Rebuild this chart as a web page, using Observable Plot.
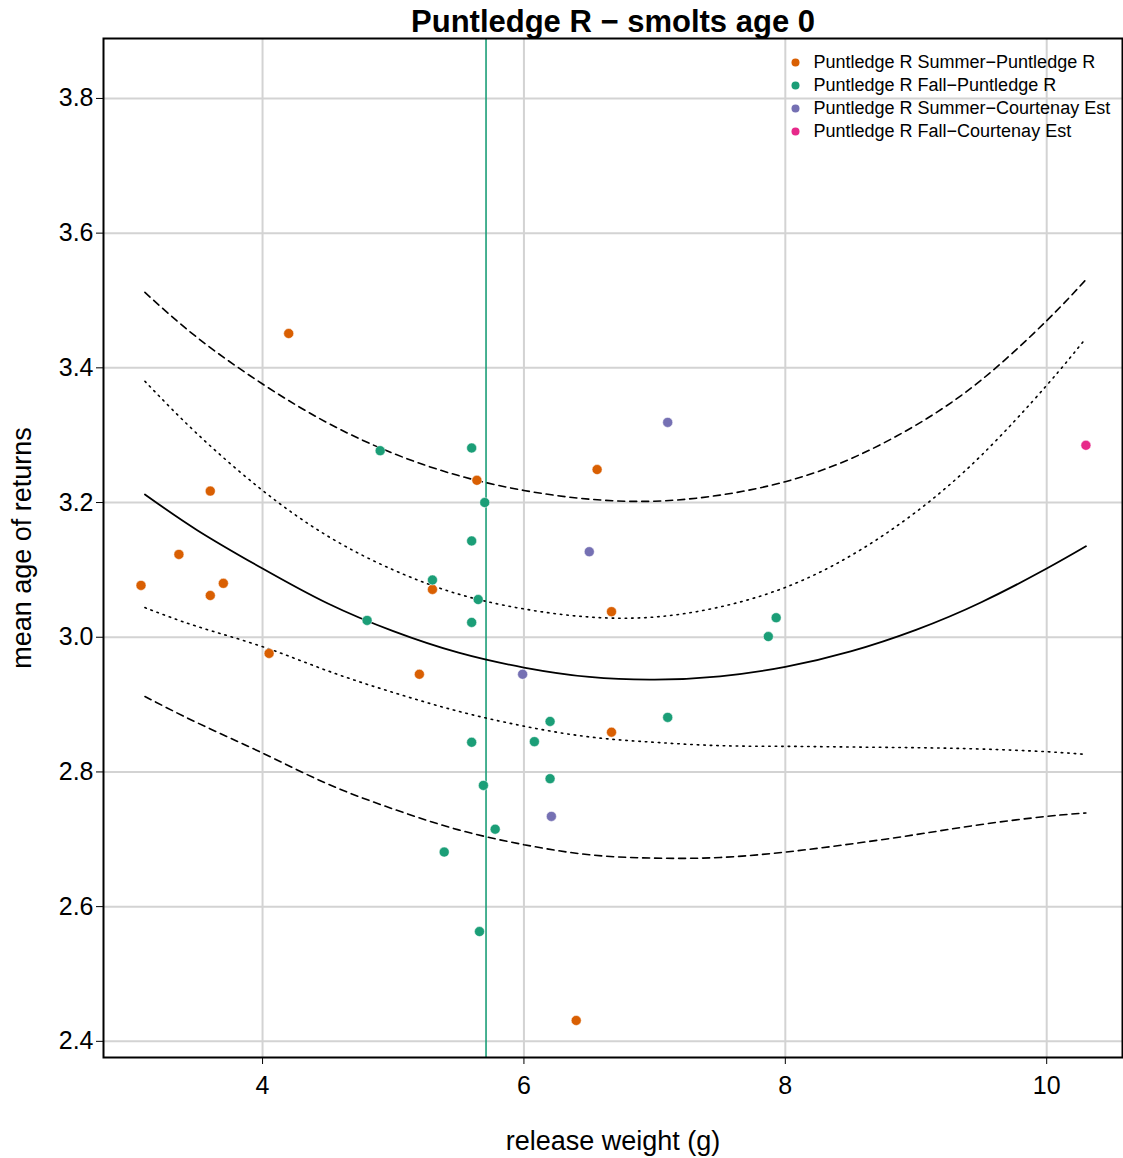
<!DOCTYPE html>
<html>
<head>
<meta charset="utf-8">
<script src="https://cdn.jsdelivr.net/npm/d3@7"></script>
<script src="https://cdn.jsdelivr.net/npm/@observablehq/plot@0.6"></script>
<style>
  html, body { margin: 0; padding: 0; background: #fff; }
  svg { font-family: "Liberation Sans", Arial, Helvetica, sans-serif; }
</style>
</head>
<body>
<div id="chart"></div>
<script>
// ---- labels ----
const titleText = "Puntledge R \u2212 smolts age 0";
const xLabel = "release weight (g)";
const yLabel = "mean age of returns";
const seriesNames = [
  "Puntledge R Summer\u2212Puntledge R",
  "Puntledge R Fall\u2212Puntledge R",
  "Puntledge R Summer\u2212Courtenay Est",
  "Puntledge R Fall\u2212Courtenay Est"
];
const seriesColors = ["#D95F02", "#1B9E77", "#7570B3", "#E7298A"];
const xTicks = [4, 6, 8, 10];
const yTicks = [2.4, 2.6, 2.8, 3.0, 3.2, 3.4, 3.6, 3.8];

// ---- points ----
const summerPuntX = [3.07, 3.36, 3.60, 3.60, 3.70, 4.20, 4.05, 5.20, 5.30, 5.64, 6.56, 6.67, 6.67, 6.40];
const summerPuntY = [3.077, 3.123, 3.217, 3.062, 3.080, 3.451, 2.976, 2.945, 3.071, 3.233, 3.249, 3.038, 2.859, 2.431];
const fallPuntX = [4.90, 5.60, 5.70, 5.60, 5.30, 5.65, 5.60, 4.80, 6.20, 5.60, 6.08, 6.20, 5.69, 5.78, 5.39, 5.66, 7.10, 7.93, 7.87];
const fallPuntY = [3.277, 3.281, 3.200, 3.143, 3.085, 3.056, 3.022, 3.025, 2.875, 2.844, 2.845, 2.790, 2.780, 2.715, 2.681, 2.563, 2.881, 3.029, 3.001];
const summerCourtX = [7.10, 6.50, 5.99, 6.21];
const summerCourtY = [3.319, 3.127, 2.945, 2.734];
const fallCourtX = [10.30];
const fallCourtY = [3.285];

// vertical reference line
const refLineX = [5.71];

// ---- fitted curve, confidence band (dotted), prediction band (dashed) ----
const curveX  = [3.1,   3.5,   4.0,   4.5,   5.0,   5.5,   6.0,   6.5,   7.0,   7.5,   8.0,   8.5,   9.0,   9.5,   10.0,  10.3];
const fitY    = [3.212, 3.159, 3.102, 3.050, 3.009, 2.977, 2.955, 2.941, 2.937, 2.942, 2.956, 2.979, 3.011, 3.052, 3.102, 3.135];
const ciUpY   = [3.380, 3.302, 3.218, 3.150, 3.100, 3.064, 3.042, 3.030, 3.030, 3.045, 3.074, 3.121, 3.186, 3.270, 3.374, 3.444];
const ciLoY   = [3.044, 3.016, 2.986, 2.950, 2.918, 2.890, 2.868, 2.852, 2.844, 2.839, 2.838, 2.837, 2.836, 2.834, 2.830, 2.826];
const piUpY   = [3.512, 3.445, 3.376, 3.318, 3.273, 3.240, 3.218, 3.205, 3.202, 3.211, 3.231, 3.265, 3.315, 3.382, 3.470, 3.531];
const piLoY   = [2.912, 2.873, 2.828, 2.782, 2.745, 2.714, 2.692, 2.677, 2.672, 2.673, 2.681, 2.693, 2.707, 2.722, 2.734, 2.739];

// ---- build tables ----
const seriesX = [summerPuntX, fallPuntX, summerCourtX, fallCourtX];
const seriesY = [summerPuntY, fallPuntY, summerCourtY, fallCourtY];
const points = seriesX.flatMap((xs, s) => xs.map((x, i) => ({x, y: seriesY[s][i], series: seriesNames[s]})));
const toPts = (xs, ys) => xs.map((x, i) => ({x, y: ys[i]}));

const font = '"Liberation Sans", Arial, Helvetica, sans-serif';

const legendMarks = seriesNames.flatMap((name, i) => [
  Plot.dot([name], {frameAnchor: "top-left", dx: 692, dy: 24 + 23 * i, r: 4, fill: d => d}),
  Plot.text([name], {frameAnchor: "top-left", dx: 710, dy: 24 + 23 * i, text: d => d, textAnchor: "start", lineAnchor: "middle", fontSize: 18, fill: "#000"})
]);

const lineOpts = {x: "x", y: "y", curve: "natural", stroke: "#000", strokeWidth: 1.6};

const chart = Plot.plot({
  width: 1123,
  height: 1158,
  marginLeft: 103,
  marginRight: 1,
  marginTop: 38,
  marginBottom: 101,
  style: {fontFamily: font, background: "#fff", color: "#000", overflow: "visible"},
  x: {domain: [2.783, 10.58]},
  y: {domain: [2.376, 3.889]},
  color: {domain: seriesNames, range: seriesColors},
  marks: [
    Plot.gridX(xTicks, {stroke: "#d3d3d3", strokeOpacity: 1, strokeWidth: 2}),
    Plot.gridY(yTicks, {stroke: "#d3d3d3", strokeOpacity: 1, strokeWidth: 2}),
    Plot.ruleX(refLineX, {stroke: "#1B9E77", strokeWidth: 1.6}),
    Plot.line(toPts(curveX, piUpY), {...lineOpts, strokeDasharray: "7,5"}),
    Plot.line(toPts(curveX, piLoY), {...lineOpts, strokeDasharray: "7,5"}),
    Plot.line(toPts(curveX, ciUpY), {...lineOpts, strokeDasharray: "1.5,5"}),
    Plot.line(toPts(curveX, ciLoY), {...lineOpts, strokeDasharray: "1.5,5"}),
    Plot.line(toPts(curveX, fitY), {...lineOpts, strokeWidth: 1.8}),
    Plot.dot(points, {x: "x", y: "y", fill: "series", r: 5, stroke: "#fff", strokeWidth: 0.5}),
    Plot.frame({stroke: "#000", strokeWidth: 2}),
    Plot.axisX(xTicks, {tickSize: 7, tickPadding: 12, fontSize: 25, label: null, tickFormat: d => String(d), stroke: "#000"}),
    Plot.axisY(yTicks, {tickSize: 7, tickPadding: 3, fontSize: 25, label: null, tickFormat: d3.format(".1f"), stroke: "#000"}),
    Plot.text([xLabel], {frameAnchor: "bottom", dy: 84, text: d => d, lineAnchor: "middle", fontSize: 27, fill: "#000"}),
    Plot.text([yLabel], {frameAnchor: "left", dx: -81, rotate: -90, text: d => d, textAnchor: "middle", lineAnchor: "middle", fontSize: 27, fill: "#000"}),
    Plot.text([titleText], {frameAnchor: "top", dy: -16, text: d => d, lineAnchor: "middle", fontSize: 31, fontWeight: "bold", fill: "#000"}),
    ...legendMarks
  ]
});

document.getElementById("chart").appendChild(chart);
</script>
</body>
</html>
